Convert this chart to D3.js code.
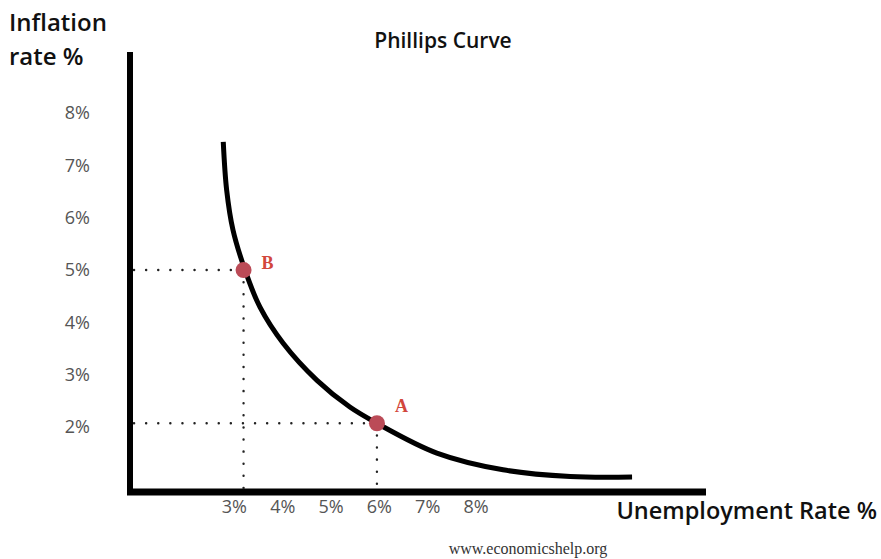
<!doctype html>
<html>
<head>
<meta charset="utf-8" />
<title>Phillips Curve</title>
<script src="https://cdn.jsdelivr.net/npm/d3@7"></script>
<style>
  body{margin:0;padding:0;background:#fff;}
</style>
</head>
<body>
<script>
  // valori
  var curveUnemp = [2.78, 2.85, 2.98, 3.23, 3.54, 4.02, 4.72, 5.40, 5.96, 7.20, 8.57, 9.96, 11.24];
  var curveInfl  = [7.45, 6.53, 5.77, 5.00, 4.29, 3.60, 2.89, 2.38, 2.07, 1.50, 1.18, 1.05, 1.04];
  var pointNames = ["B", "A"];
  var pointUnemp = [3.2, 5.96];
  var pointInfl  = [5.0, 2.07];
  var xTicks = [3, 4, 5, 6, 7, 8];
  var yTicks = [2, 3, 4, 5, 6, 7, 8];

  var width = 881, height = 559;
  var svg = d3.select("body").append("svg").attr("width", width).attr("height", height)
      .style("font-family", "'Open Sans', sans-serif");

  var x = d3.scaleLinear().domain([0.85, 12.77]).range([130, 706]);
  var y = d3.scaleLinear().domain([0.755, 9.17]).range([492, 52]);

  // assi
  var xAxis = d3.axisBottom(x).tickValues(xTicks).tickSize(0).tickSizeOuter(0).tickPadding(8)
      .tickFormat(function(d){ return d + "%"; });
  var yAxis = d3.axisLeft(y).tickValues(yTicks).tickSize(0).tickSizeOuter(0).tickPadding(40)
      .tickFormat(function(d){ return d + "%"; });

  var gx = svg.append("g").attr("transform", "translate(0,492)").call(xAxis);
  var gy = svg.append("g").attr("transform", "translate(130,0)").call(yAxis);
  gx.select(".domain").remove();
  gy.select(".domain").remove();
  svg.selectAll(".tick text").attr("font-family", "Open Sans").attr("font-size", "18px").attr("fill", "#555");

  // linee degli assi
  svg.append("line").attr("x1", x.range()[0]).attr("x2", x.range()[0]).attr("y1", y.range()[1]).attr("y2", y.range()[0] + 3)
     .attr("stroke", "#000").attr("stroke-width", 6);
  svg.append("line").attr("x1", x.range()[0] - 3).attr("x2", x.range()[1]).attr("y1", y.range()[0]).attr("y2", y.range()[0])
     .attr("stroke", "#000").attr("stroke-width", 7);

  // linee tratteggiate
  pointUnemp.forEach(function(u, i){
    var px = x(u), py = y(pointInfl[i]);
    svg.append("line").attr("x1", 134).attr("x2", px).attr("y1", py).attr("y2", py)
       .attr("stroke", "#222").attr("stroke-width", 2.4).attr("stroke-linecap", "round").attr("stroke-dasharray", "0.1,12");
    svg.append("line").attr("x1", px).attr("x2", px).attr("y1", py).attr("y2", y.range()[0] - 4)
       .attr("stroke", "#222").attr("stroke-width", 2.4).attr("stroke-linecap", "round").attr("stroke-dasharray", "0.1,12");
  });

  // curva di Phillips
  var line = d3.line()
      .x(function(d, i){ return x(curveUnemp[i]); })
      .y(function(d, i){ return y(curveInfl[i]); })
      .curve(d3.curveCatmullRom);
  svg.append("path").datum(curveUnemp).attr("d", line)
     .attr("fill", "none").attr("stroke", "#000").attr("stroke-width", 5);

  // punti A e B
  svg.selectAll(".pt").data(pointNames).enter().append("circle").attr("class", "pt")
     .attr("cx", function(d, i){ return x(pointUnemp[i]); })
     .attr("cy", function(d, i){ return y(pointInfl[i]); })
     .attr("r", 8).attr("fill", "#bb4b57");
  svg.selectAll(".ptlabel").data(pointNames).enter().append("text").attr("class", "ptlabel")
     .attr("x", function(d, i){ return x(pointUnemp[i]) + 18; })
     .attr("y", function(d, i){ return y(pointInfl[i]) - 1 - (d == "A" ? 10 : 0); })
     .style("font-family", "'Liberation Serif', serif").attr("font-weight", "bold").attr("font-size", "18px")
     .attr("fill", "#d2473c").attr("text-anchor", "start").text(function(d){ return d; });

  // testi
  svg.append("text").attr("x", 443).attr("y", 48).attr("text-anchor", "middle")
     .attr("font-size", "21px").attr("font-weight", 600).attr("fill", "#111").text("Phillips Curve");
  svg.append("text").attr("x", 9).attr("y", 31)
     .attr("font-size", "24px").attr("font-weight", 600).attr("fill", "#111").text("Inflation");
  svg.append("text").attr("x", 9).attr("y", 65)
     .attr("font-size", "24px").attr("font-weight", 600).attr("fill", "#111").text("rate %");
  svg.append("text").attr("x", 877).attr("y", 519).attr("text-anchor", "end")
     .attr("font-size", "23.5px").attr("font-weight", 600).attr("fill", "#111").text("Unemployment Rate %");
  svg.append("text").attr("x", 528).attr("y", 554).attr("text-anchor", "middle")
     .style("font-family", "'Liberation Serif', serif").attr("font-size", "16px").attr("fill", "#333").text("www.economicshelp.org");
</script>
</body>
</html>
